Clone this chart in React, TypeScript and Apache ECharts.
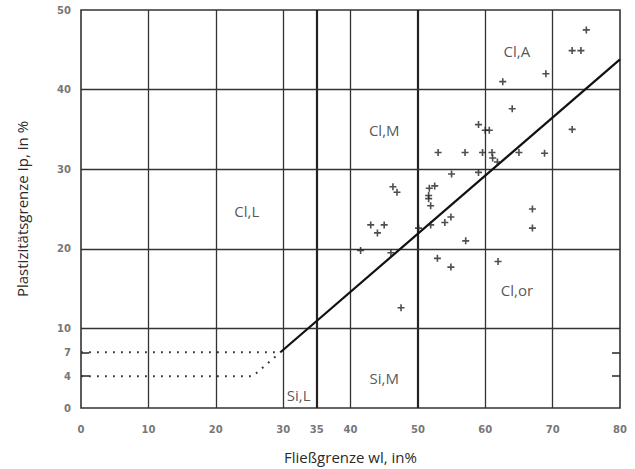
import React, { useEffect, useRef } from "react";
import * as echarts from "echarts";

const xTicks = [0, 10, 20, 30, 35, 40, 50, 60, 70, 80];
const yTicks = [0, 4, 7, 10, 20, 30, 40, 50];
const xGridThin = [10, 20, 30, 40, 60, 70];
const xGridThick = [35, 50];
const yGrid = [10, 20, 30, 40];
const sideTicks = [4, 7];

const aLine: [number, number][] = [
  [29.6, 7],
  [80, 43.8],
];
const dotted7: [number, number][] = [
  [0, 7],
  [29.6, 7],
];
const dotted4: [number, number][] = [
  [0, 4],
  [25.5, 4],
  [29.6, 7],
];

const samples: [number, number][] = [
  [75.0, 47.5], [72.9, 44.9], [74.2, 44.9], [69.0, 42.0], [62.6, 41.0],
  [64.0, 37.6], [59.0, 35.6], [60.0, 34.9], [60.6, 34.9], [72.9, 35.0],
  [53.0, 32.1], [57.0, 32.1], [59.6, 32.1], [61.0, 32.1], [61.1, 31.4],
  [61.8, 30.9], [65.0, 32.1], [68.8, 32.0], [55.0, 29.4], [59.0, 29.6],
  [46.3, 27.8], [46.9, 27.1], [51.7, 27.6], [52.5, 27.9], [51.6, 26.7],
  [51.6, 26.3], [51.9, 25.4], [67.0, 25.0], [67.0, 22.6], [43.0, 23.0],
  [45.0, 23.0], [44.0, 22.0], [50.1, 22.6], [51.9, 23.0], [54.0, 23.3],
  [54.9, 24.0], [57.1, 21.0], [41.5, 19.8], [46.0, 19.5], [52.9, 18.8],
  [54.9, 17.7], [61.9, 18.4], [47.5, 12.6],
];

const zoneNames = ["Cl,A", "Cl,M", "Cl,L", "Cl,or", "Si,M", "Si,L"];
const zonePos: [number, number][] = [
  [64.7, 44.8],
  [45.0, 34.9],
  [24.6, 24.7],
  [64.7, 14.8],
  [45.0, 3.8],
  [32.3, 1.6],
];

const xTitle = "Fließgrenze wl, in%";
const yTitle = "Plastizitätsgrenze Ip, in %";

const INK = "#333";

export default function App() {
  const ref = useRef<HTMLDivElement>(null);
  useEffect(() => {
    if (!ref.current) return;
    const chart = echarts.init(ref.current, null, { renderer: "svg" });
    const gridLines: any[] = [
      ...xGridThin.map((v) => ({ xAxis: v, lineStyle: { width: 1.3, color: INK, type: "solid" } })),
      ...xGridThick.map((v) => ({ xAxis: v, lineStyle: { width: 2.2, color: "#222", type: "solid" } })),
      ...yGrid.map((v) => ({ yAxis: v, lineStyle: { width: 1.3, color: INK, type: "solid" } })),
    ];
    chart.setOption({
      animation: false,
      backgroundColor: "#fff",
      grid: {
        left: 81,
        top: 10,
        width: 539,
        height: 402,
        show: true,
        borderColor: INK,
        borderWidth: 1.6,
        backgroundColor: "transparent",
      },
      xAxis: {
        type: "value",
        min: 0,
        max: 80,
        splitLine: { show: false },
        axisLine: { show: false },
        axisTick: { show: false },
        axisLabel: {
          customValues: xTicks,
          margin: 16,
          fontFamily: "DejaVu Sans",
          fontSize: 10,
          fontWeight: "bold",
          color: "#777",
        },
        name: xTitle,
        nameLocation: "middle",
        nameGap: 41,
        nameTextStyle: { fontFamily: "Open Sans", fontSize: 15, color: "#2a2a2a" },
      },
      yAxis: [
        {
          type: "value",
          min: 0,
          max: 50,
          splitLine: { show: false },
          axisLine: { show: false },
          axisTick: {
            show: true,
            inside: true,
            length: 8,
            customValues: sideTicks,
            lineStyle: { color: INK, width: 1.6 },
          },
          axisLabel: {
            customValues: yTicks,
            margin: 10,
            fontFamily: "DejaVu Sans",
            fontSize: 10,
            fontWeight: "bold",
            color: "#777",
          },
          name: yTitle,
          nameLocation: "middle",
          nameRotate: 90,
          nameGap: 52,
          nameTextStyle: { fontFamily: "Open Sans", fontSize: 15, color: "#2a2a2a" },
        },
        {
          type: "value",
          min: 0,
          max: 50,
          position: "right",
          splitLine: { show: false },
          axisLine: { show: false },
          axisLabel: { show: false },
          axisTick: {
            show: true,
            inside: true,
            length: 8,
            customValues: sideTicks,
            lineStyle: { color: INK, width: 1.6 },
          },
        },
      ],
      series: [
        {
          type: "line",
          data: aLine,
          symbol: "none",
          lineStyle: { color: "#111", width: 2.2 },
          silent: true,
          z: 5,
          markLine: {
            silent: true,
            symbol: ["none", "none"],
            label: { show: false },
            emphasis: { disabled: true },
            data: gridLines,
          },
        },
        {
          type: "line",
          data: dotted7,
          symbol: "none",
          lineStyle: { color: INK, width: 2, type: [1.8, 6.2] },
          silent: true,
        },
        {
          type: "line",
          data: dotted4,
          symbol: "none",
          lineStyle: { color: INK, width: 2, type: [1.8, 6.2] },
          silent: true,
        },
        {
          type: "scatter",
          data: samples,
          symbol: "path://M2.7,0H4.3V2.7H7V4.3H4.3V7H2.7V4.3H0V2.7H2.7Z",
          symbolSize: 7,
          itemStyle: { color: "#222" },
          silent: true,
          z: 6,
        },
        {
          type: "scatter",
          data: zoneNames.map((n, i) => ({ name: n, value: zonePos[i] })),
          symbolSize: 0,
          silent: true,
          label: {
            show: true,
            position: "inside",
            formatter: "{b}",
            fontFamily: "Open Sans",
            fontSize: 15,
            color: "#2a2a2a",
          },
          z: 7,
        },
      ],
    });
    return () => chart.dispose();
  }, []);
  return (
    <div
      ref={ref}
      style={{ position: "fixed", left: 0, top: 0, width: 635, height: 469 }}
    />
  );
}
